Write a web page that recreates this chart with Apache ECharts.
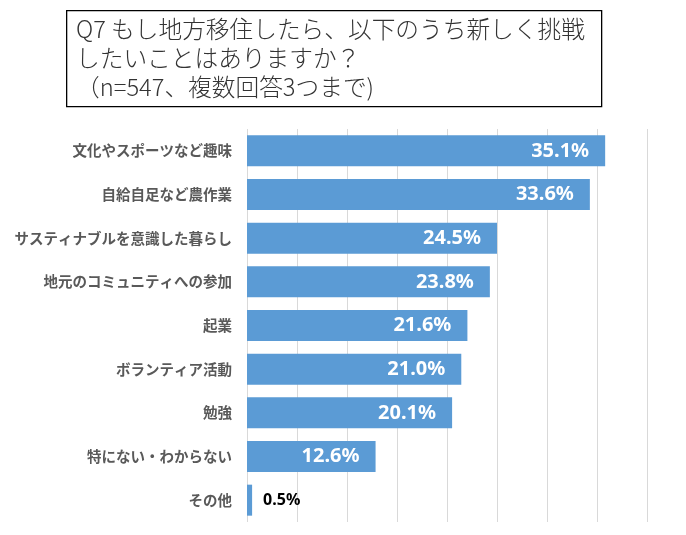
<!DOCTYPE html>
<html>
<head>
<meta charset="utf-8">
<script src="https://cdn.jsdelivr.net/npm/echarts@6/dist/echarts.min.js"></script>
<style>
html,body{margin:0;padding:0;background:#fff;}
#c{width:686px;height:535px;}
</style>
</head>
<body>
<div id="c"></div>
<script>
var titleLines = ['Q7 もし地方移住したら、以下のうち新しく挑戦', 'したいことはありますか？', '（n=547、複数回答3つまで)'];
var categories = ['文化やスポーツなど趣味', '自給自足など農作業', 'サスティナブルを意識した暮らし', '地元のコミュニティへの参加', '起業', 'ボランティア活動', '勉強', '特にない・わからない', 'その他'];
var values = [35.1, 33.6, 24.5, 23.8, 21.6, 21.0, 20.1, 12.6, 0.5];

var chart = echarts.init(document.getElementById('c'), null, {renderer: 'canvas'});
var barData = values.map(function (v) {
  if (v < 5) {
    return {value: v, label: {position: 'right', color: '#000', fontSize: 16, fontWeight: 'bold', distance: 11}};
  }
  return v;
});
chart.setOption({
  animation: false,
  backgroundColor: '#fff',
  grid: {left: 247, right: 39, top: 129, bottom: 13, containLabel: false},
  xAxis: {
    type: 'value', min: 0, max: 39.2, interval: 4.9,
    axisLabel: {show: false}, axisLine: {show: false}, axisTick: {show: false},
    splitLine: {show: true, lineStyle: {color: '#d9d9d9', width: 1}}
  },
  yAxis: {
    type: 'category', inverse: true, data: categories,
    axisLine: {show: false}, axisTick: {show: false},
    axisLabel: {color: '#595959', fontSize: 14.5, fontWeight: 'bold', margin: 15,
      fontFamily: '"Noto Sans CJK JP", sans-serif'}
  },
  series: [{
    type: 'bar', data: barData, barCategoryGap: '29%',
    itemStyle: {color: '#5B9BD5'},
    label: {
      show: true, position: 'insideRight', distance: 16,
      color: '#fff', fontSize: 20, fontWeight: 'bold',
      fontFamily: '"Noto Sans", "Noto Sans CJK JP", sans-serif',
      formatter: function (p) { return p.value.toFixed(1) + '%'; }
    }
  }],
  graphic: [{
    type: 'rect', left: 66, top: 10,
    shape: {width: 535, height: 96},
    style: {fill: '#fff', stroke: '#000', lineWidth: 1.3}
  }, {
    type: 'text', left: 76, top: 14.5,
    style: {
      text: titleLines.join('\n'),
      fill: '#333', fontSize: 23.7, lineHeight: 29, fontWeight: 300,
      fontFamily: '"Noto Sans CJK JP", sans-serif'
    }
  }]
});
</script>
</body>
</html>
